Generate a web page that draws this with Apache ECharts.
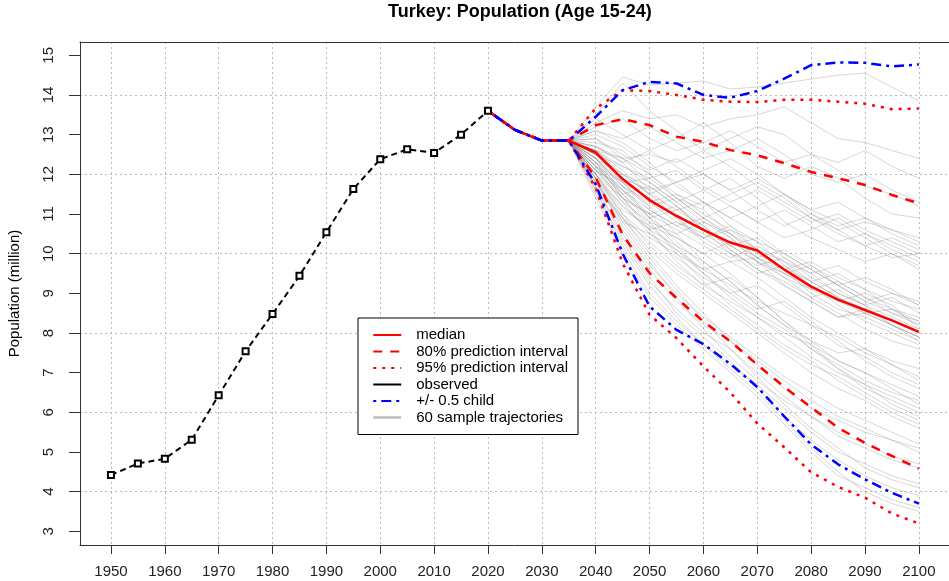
<!DOCTYPE html>
<html>
<head>
<meta charset="utf-8">
<script src="https://cdn.jsdelivr.net/npm/echarts@6.0.0/dist/echarts.min.js"></script>
<style>
html,body{margin:0;padding:0;background:#fff;}
#main{width:949px;height:581px;}
</style>
</head>
<body>
<div id="main"></div>
<script>
// observed 1950-2020
var obsYears = [1950,1955,1960,1965,1970,1975,1980,1985,1990,1995,2000,2005,2010,2015,2020];
var observed = [4.42,4.71,4.83,5.31,6.43,7.54,8.48,9.44,10.54,11.63,12.38,12.63,12.54,13.0,13.6];

// projections 2020-2100
var projYears = [2020,2025,2030,2035,2040,2045,2050,2055,2060,2065,2070,2075,2080,2085,2090,2095,2100];
var median  = [13.6,13.12,12.85,12.85,12.55,11.88,11.35,10.95,10.6,10.28,10.08,9.6,9.17,8.84,8.58,8.32,8.03];
var pi80up  = [13.6,13.12,12.85,12.85,13.24,13.39,13.24,12.95,12.82,12.61,12.48,12.28,12.06,11.9,11.73,11.48,11.27];
var pi80low = [13.6,13.12,12.85,12.85,11.92,10.48,9.51,8.88,8.29,7.79,7.2,6.64,6.13,5.61,5.23,4.9,4.58];
var pi95up  = [13.6,13.12,12.85,12.85,13.66,14.12,14.1,14.0,13.88,13.83,13.82,13.88,13.88,13.83,13.78,13.64,13.66];
var pi95low = [13.6,13.12,12.85,12.85,11.65,9.76,8.46,7.87,7.16,6.5,5.72,5.12,4.49,4.12,3.85,3.45,3.2];
var halfUp  = [13.6,13.12,12.85,12.85,13.45,14.12,14.33,14.29,14.0,13.93,14.1,14.41,14.75,14.82,14.81,14.72,14.77];
var halfLow = [13.6,13.12,12.85,12.85,11.75,10.0,8.67,8.08,7.72,7.22,6.64,5.9,5.19,4.69,4.31,3.97,3.7];

// 60 sample trajectories 2035-2100
var trajYears = [2035,2040,2045,2050,2055,2060,2065,2070,2075,2080,2085,2090,2095,2100];
var trajectories = [
    [12.85,13.7,14.45,14.25,14.3,14.35,14.15,14.2,14.3,14.4,14.5,14.55,14.2,13.85],
    [12.85,13.5,14.3,13.6,13.1,12.6,12.9,13.2,13.0,12.5,12.3,12.6,12.2,11.9],
    [12.85,13.3,13.6,13.4,13.5,13.2,13.4,13.5,13.7,13.3,12.9,12.8,12.6,12.4],
    [12.85,13.2,13.4,12.9,12.6,12.8,13.1,12.7,12.3,12.5,12.1,11.7,11.5,11.2],
    [12.85,13.1,12.9,13.2,12.8,12.4,12.6,12.9,12.5,12.0,11.8,12.0,11.6,11.3],
    [12.85,13.4,13.0,12.6,12.9,13.3,12.8,12.2,11.9,12.2,11.9,11.4,11.0,10.9],
    [12.85,12.9,12.5,12.1,12.4,12.0,11.6,11.9,11.5,11.1,11.3,10.9,10.6,10.4],
    [12.85,13.0,12.7,12.2,11.8,12.1,12.4,12.0,11.5,11.0,10.7,10.9,10.5,10.2],
    [12.85,12.7,12.3,12.6,12.2,11.7,11.3,11.6,11.2,10.8,11.0,10.6,10.3,10.0],
    [12.85,12.6,12.0,11.5,11.8,12.0,11.6,11.1,10.7,11.0,10.6,10.2,10.4,10.1],
    [12.85,12.8,12.6,12.0,11.5,11.2,11.5,11.8,11.4,10.9,10.5,10.2,9.9,10.0],
    [12.85,12.5,12.2,11.9,12.1,11.6,11.2,10.8,11.1,10.7,10.3,10.5,10.1,9.8],
    [12.85,13.1,12.8,12.3,11.7,11.3,10.9,11.2,11.5,11.1,10.8,10.4,10.0,9.7],
    [12.85,12.4,11.8,11.9,11.4,10.9,11.2,10.8,10.4,10.6,10.9,10.5,10.2,9.9],
    [12.85,12.6,12.4,12.5,12.3,12.6,12.2,11.7,11.3,10.9,10.6,10.8,10.6,10.3],
    [12.85,12.9,12.4,11.8,11.3,11.6,11.9,11.4,10.8,10.4,10.1,9.8,10.0,9.6],
    [12.85,12.3,11.6,11.1,10.7,10.9,10.5,10.1,9.8,9.5,9.7,9.3,9.0,8.8],
    [12.85,12.5,11.9,11.3,11.5,11.0,10.6,10.3,10.0,9.6,9.2,9.4,9.1,8.7],
    [12.85,12.2,11.5,11.7,11.2,10.6,10.2,10.4,9.9,9.4,9.0,8.7,8.9,8.5],
    [12.85,12.6,12.1,11.5,10.9,10.4,10.7,10.3,9.7,9.3,9.5,9.1,8.6,8.3],
    [12.85,12.4,11.7,11.2,11.4,11.1,10.5,9.9,10.1,9.7,9.2,8.8,8.5,8.2],
    [12.85,12.1,11.3,10.8,10.5,10.8,10.4,9.8,9.5,9.7,9.3,8.9,8.6,8.4],
    [12.85,12.7,12.3,11.6,11.0,10.6,10.2,9.8,9.4,9.1,8.8,9.0,8.7,8.1],
    [12.85,12.3,11.8,11.4,10.9,10.3,9.9,10.2,9.8,9.3,8.9,8.5,8.2,7.9],
    [12.85,12.0,11.4,11.0,11.2,10.7,10.1,9.6,9.3,8.9,9.1,8.7,8.2,7.8],
    [12.85,12.5,12.0,11.7,11.2,10.6,10.0,9.5,9.7,9.2,8.7,8.3,8.0,7.7],
    [12.85,12.2,11.6,10.9,10.4,10.0,10.3,9.9,9.4,8.9,8.5,8.1,7.8,7.6],
    [12.85,12.6,12.2,11.8,11.3,10.8,10.5,10.0,9.6,9.0,8.6,8.4,8.1,7.8],
    [12.85,12.4,11.5,10.9,11.1,10.7,10.2,9.8,9.2,8.8,8.4,8.6,8.3,8.0],
    [12.85,12.1,11.7,11.3,10.8,10.4,10.6,10.1,9.5,9.2,8.8,8.5,8.6,8.2],
    [12.85,12.7,12.4,12.0,11.4,10.9,10.4,9.9,9.5,9.1,9.3,8.9,8.5,8.3],
    [12.85,12.3,11.4,11.0,10.6,10.2,9.8,9.9,9.6,9.3,8.9,8.6,8.2,7.9],
    [12.85,12.5,11.9,11.6,11.8,11.3,10.7,10.1,9.6,9.8,9.4,9.1,8.8,8.6],
    [12.85,12.0,11.2,10.6,10.8,10.5,10.1,9.6,9.2,8.8,8.4,8.5,8.2,7.9],
    [12.85,12.4,12.0,11.5,11.1,11.3,10.9,10.5,10.0,9.6,9.2,8.8,9.0,8.7],
    [12.85,12.2,11.8,11.1,10.7,10.4,10.0,9.7,9.9,9.5,9.0,8.7,8.4,8.1],
    [12.85,12.0,11.0,10.4,10.0,9.6,9.8,9.4,8.9,8.4,8.0,7.6,7.3,7.1],
    [12.85,11.8,10.8,10.5,10.1,9.6,9.2,8.8,8.5,8.2,7.9,7.5,7.2,6.9],
    [12.85,12.3,11.4,10.7,10.1,9.5,9.0,9.2,8.7,8.2,7.7,7.4,7.0,6.7],
    [12.85,12.1,11.6,11.0,10.3,9.7,9.1,8.6,8.8,8.3,7.8,7.3,6.9,6.6],
    [12.85,11.9,11.2,10.6,10.2,9.8,9.3,8.7,8.2,7.8,7.5,7.6,7.2,6.8],
    [12.85,12.4,11.7,10.9,10.2,9.5,8.9,8.4,8.0,7.7,7.3,7.0,6.7,6.4],
    [12.85,12.2,11.3,10.5,9.9,9.4,9.0,8.5,8.1,7.6,7.2,6.8,6.5,6.3],
    [12.85,11.7,10.9,10.3,9.7,9.2,8.8,8.4,7.9,7.4,7.0,6.7,6.4,6.1],
    [12.85,12.0,11.1,10.7,10.4,10.0,9.5,8.9,8.3,7.8,7.3,7.0,6.6,6.2],
    [12.85,12.5,11.8,11.2,10.5,9.8,9.3,8.7,8.2,7.6,7.1,6.7,6.2,5.9],
    [12.85,11.9,11.0,10.2,9.6,9.1,8.6,8.1,7.6,7.2,6.9,6.5,6.1,5.8],
    [12.85,12.2,11.5,10.8,10.0,9.3,8.7,8.2,7.7,7.3,6.8,6.4,6.0,5.7],
    [12.85,12.1,11.4,10.6,9.8,9.2,9.4,8.9,8.3,7.7,7.1,6.6,6.3,6.0],
    [12.85,11.8,10.9,10.1,9.5,9.0,8.5,8.0,7.5,7.0,6.6,6.3,5.9,5.6],
    [12.85,11.9,10.6,9.7,9.0,8.4,7.9,7.4,6.9,6.5,6.1,5.8,5.5,5.2],
    [12.85,11.7,10.5,9.6,8.8,8.2,7.8,7.3,6.8,6.3,5.9,5.6,5.3,5.1],
    [12.85,12.0,10.9,10.0,9.2,8.5,7.8,7.2,6.6,6.1,5.8,5.5,5.3,5.0],
    [12.85,11.6,10.3,9.3,8.6,8.0,7.6,7.0,6.4,5.9,5.4,5.1,4.8,4.6],
    [12.85,11.8,10.7,9.8,8.9,8.1,7.4,6.8,6.3,5.9,5.5,5.2,4.9,4.7],
    [12.85,11.5,10.1,9.0,8.3,7.7,7.2,6.7,6.1,5.5,5.0,4.7,4.4,4.2],
    [12.85,11.9,10.8,9.9,9.1,8.3,7.6,6.9,6.2,5.6,5.1,4.6,4.3,4.1],
    [12.85,11.7,10.4,9.4,8.5,7.9,7.3,6.6,5.9,5.3,4.8,4.4,4.1,3.9],
    [12.85,11.4,10.0,8.9,8.2,7.6,7.0,6.4,5.7,5.0,4.4,4.1,3.8,3.6],
    [12.85,11.6,10.2,9.2,8.4,7.7,7.1,6.5,5.8,5.1,4.5,4.0,3.7,3.5]
];

var xTicks = [1950,1960,1970,1980,1990,2000,2010,2020,2030,2040,2050,2060,2070,2080,2090,2100];
var yTicks = [3,4,5,6,7,8,9,10,11,12,13,14,15];
var yGrid = [4,6,8,10,12,14];

function pairs(xs, ys){
    var out = [];
    for (var i = 0; i < xs.length; i++) out.push([xs[i], ys[i]]);
    return out;
}

var myChart = echarts.init(document.getElementById('main'), null, {renderer: 'canvas'});
var font = 'Liberation Sans, Arial, sans-serif';
var xMin = 1944.25, xMax = 2105.6, yMin = 2.656, yMax = 15.335;

var series = [];
for (var t = 0; t < trajectories.length; t++) {
    series.push({
        name: '60 sample trajectories', type: 'line', symbol: 'none', silent: true,
        data: pairs(trajYears, trajectories[t]),
        itemStyle: {color: '#bebebe'},
        lineStyle: {color: 'rgba(140,140,140,0.35)', width: 1}
    });
}
series.push({
    name: 'observed', type: 'line', symbol: 'emptyRect', symbolSize: 6,
    data: pairs(obsYears, observed),
    itemStyle: {color: '#000', borderWidth: 1.5},
    lineStyle: {color: '#000', width: 2, type: [6, 4]}
});
series.push({
    name: 'median', type: 'line', symbol: 'none', data: pairs(projYears, median),
    itemStyle: {color: '#ff0000'},
    lineStyle: {color: '#ff0000', width: 2.5}
});
[pi80up, pi80low].forEach(function(d){
    series.push({name: '80% prediction interval', type: 'line', symbol: 'none', data: pairs(projYears, d),
        itemStyle: {color: '#ff0000'},
        lineStyle: {color: '#ff0000', width: 2.5, type: [9, 8]}});
});
[pi95up, pi95low].forEach(function(d){
    series.push({name: '95% prediction interval', type: 'line', symbol: 'none', data: pairs(projYears, d),
        itemStyle: {color: '#ff0000'},
        lineStyle: {color: '#ff0000', width: 2.5, type: [3, 6]}});
});
[halfUp, halfLow].forEach(function(d){
    series.push({name: '+/- 0.5 child', type: 'line', symbol: 'none', data: pairs(projYears, d),
        itemStyle: {color: '#0000ff'},
        lineStyle: {color: '#0000ff', width: 2.5, type: [3, 5, 10, 5]}});
});

var option = {
    animation: false,
    backgroundColor: '#fff',
    title: {
        text: 'Turkey: Population (Age 15-24)',
        left: 385, top: 0, padding: 3,
        textStyle: {fontFamily: font, fontSize: 18, fontWeight: 'bold', color: '#000'}
    },
    legend: {
        orient: 'vertical', left: 358, top: 318,
        padding: [9, 10, 9, 14], itemGap: 0.5, itemWidth: 28, itemHeight: 14,
        borderColor: '#000', borderWidth: 1, borderRadius: 0, backgroundColor: '#fff',
        itemStyle: {opacity: 0},
        textStyle: {fontFamily: font, fontSize: 15, lineHeight: 16, color: '#000', padding: [0, 0, 0, 10]},
        selectedMode: false,
        data: [
            {name: 'median'},
            {name: '80% prediction interval'},
            {name: '95% prediction interval'},
            {name: 'observed', lineStyle: {type: 'solid'}},
            {name: '+/- 0.5 child'},
            {name: '60 sample trajectories', lineStyle: {color: '#bebebe', width: 2.5}}
        ]
    },
    grid: {left: 80, right: 0, top: 42, bottom: 36, containLabel: false, outerBoundsMode: 'none'},
    xAxis: [{
        type: 'value', min: xMin, max: xMax, position: 'bottom',
        axisLine: {show: true, onZero: false, lineStyle: {color: '#333', width: 1}},
        axisTick: {show: true, length: 9, customValues: xTicks, lineStyle: {color: '#333'}},
        axisLabel: {customValues: xTicks, margin: 19, fontFamily: font, fontSize: 15, color: '#222',
            formatter: function(v){ return String(v); }},
        splitLine: {show: true, lineStyle: {color: '#bbb', type: [2, 3]}}
    }, {
        type: 'value', min: xMin, max: xMax, position: 'top',
        axisLine: {show: true, onZero: false, lineStyle: {color: '#333', width: 1}},
        axisTick: {show: false}, axisLabel: {show: false}, splitLine: {show: false}
    }],
    yAxis: [{
        type: 'value', min: yMin, max: yMax, position: 'left',
        name: 'Population (million)', nameLocation: 'middle', nameGap: 58, nameRotate: 90,
        nameTextStyle: {fontFamily: font, fontSize: 15, color: '#000'},
        axisLine: {show: true, onZero: false, lineStyle: {color: '#333', width: 1}},
        axisTick: {show: true, length: 11, customValues: yTicks, lineStyle: {color: '#333'}},
        axisLabel: {customValues: yTicks, rotate: 90, margin: 24, fontFamily: font, fontSize: 15, color: '#222'},
        splitLine: {show: false}
    }, {
        type: 'value', min: yMin, max: yMax, position: 'left',
        axisLine: {show: false}, axisLabel: {show: false},
        axisTick: {show: false, customValues: yGrid},
        splitLine: {show: true, lineStyle: {color: '#bbb', type: [2, 3]}}
    }],
    series: series
};
myChart.setOption(option);
</script>
</body>
</html>
